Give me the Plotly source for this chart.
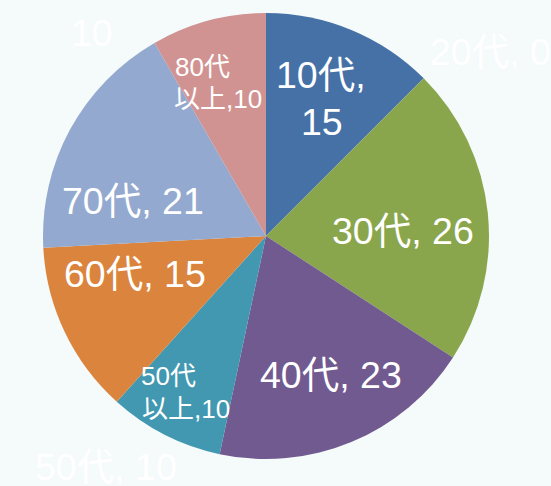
import plotly.graph_objects as go

categories = ["10代", "20代", "30代", "40代", "50代以上", "60代", "70代", "80代以上"]
values = [15, 0, 26, 23, 10, 15, 21, 10]
colors = ["#4571a7", "#8aa64d", "#8aa64d", "#715a90", "#4198b0", "#db843d", "#93a9cf", "#d19392"]

# data labels as shown on the slices (line by line)
label_lines = [
    ["10代,", "15"],
    [],
    ["30代, 26"],
    ["40代, 23"],
    ["50代", "以上,10"],
    ["60代, 15"],
    ["70代, 21"],
    ["80代", "以上,10"],
]
# faint white labels outside the pie (as in the original)
ghost_text = ["20代, 0", "10", "50代, 10"]

BG = "#f5fafb"
FONT = "Arial, 'Liberation Sans', 'Noto Sans CJK JP', sans-serif"
W, H = 551, 486
ML, MR, MT, MB = 43, 62, 13, 27
pw, ph = W - ML - MR, H - MT - MB

# layout: pixel centres of each label line, and font sizes
label_line_pos = [
    [(321, 73), (322, 120)],
    [],
    [(403, 229)],
    [(331, 373)],
    [(168, 374), (186, 407)],
    [(135, 272)],
    [(133, 199)],
    [(202, 65), (218, 97)],
]
label_sizes = [37.5, 37.5, 37.5, 37.5, 26, 37.5, 37.5, 26]
ghost_pos = [(428, 50, "left"), (92, 31, "center"), (33, 465, "left")]


def px(x, y):
    return (x - ML) / pw, (H - MB - y) / ph


fig = go.Figure(go.Pie(
    labels=categories,
    values=values,
    textinfo="none",
    marker=dict(colors=colors, line=dict(width=0)),
    sort=False,
    direction="clockwise",
    rotation=0,
    showlegend=False,
    hoverinfo="label+value",
))

ann = []
for lines, poss, size in zip(label_lines, label_line_pos, label_sizes):
    for t, (x, y) in zip(lines, poss):
        ax, ay = px(x, y + 2)
        ann.append(dict(
            x=ax, y=ay, xref="paper", yref="paper", text=t, showarrow=False,
            xanchor="center", yanchor="middle",
            font=dict(family=FONT, size=size, color="white"),
        ))
for t, (x, y, anchor) in zip(ghost_text, ghost_pos):
    ax, ay = px(x, y + 2)
    ann.append(dict(
        x=ax, y=ay, xref="paper", yref="paper", text=t, showarrow=False,
        xanchor=anchor, yanchor="middle",
        font=dict(family=FONT, size=37.5, color="white"),
    ))

fig.update_layout(
    width=W, height=H,
    paper_bgcolor=BG, plot_bgcolor=BG,
    margin=dict(l=ML, r=MR, t=MT, b=MB),
    annotations=ann,
)

fig.write_html(
    "out.html",
    config={"displayModeBar": False},
    post_script="document.body.style.margin='0';document.body.style.background='%s';" % BG,
)
